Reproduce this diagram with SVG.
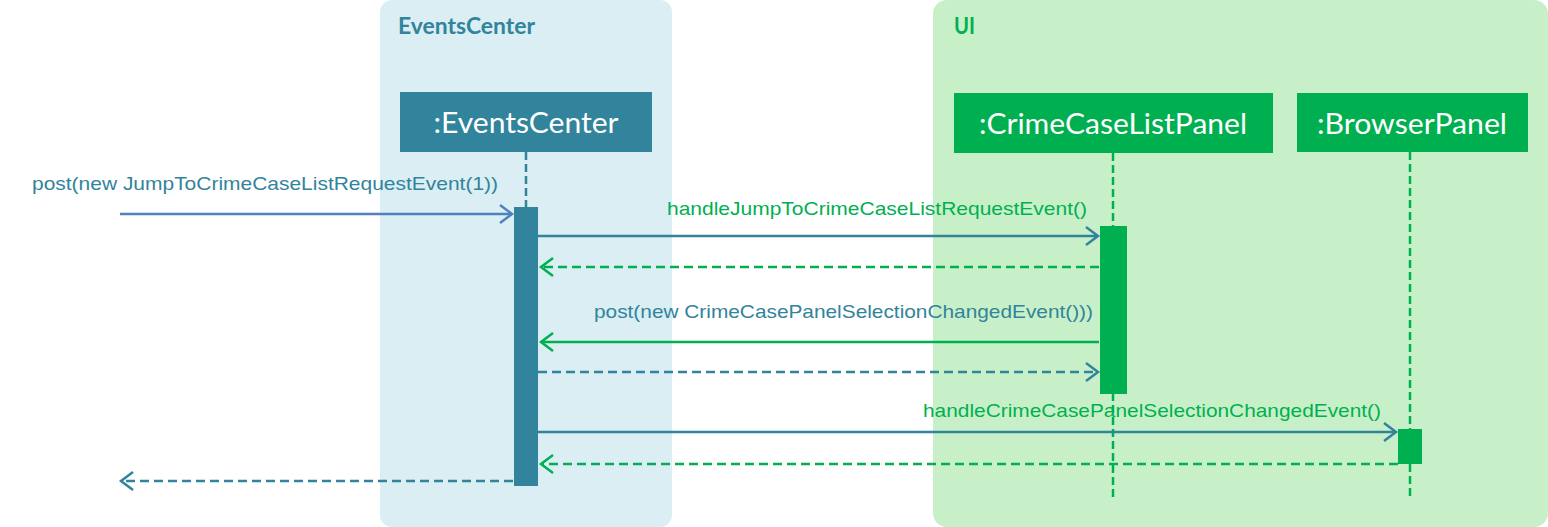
<svg xmlns="http://www.w3.org/2000/svg" width="1548" height="527" viewBox="0 0 1548 527">
<style>
.frame-title{font-family:"Lato","Liberation Sans",sans-serif;font-weight:bold;font-size:22px}
.obj{font-family:"Lato","Open Sans","Liberation Sans",sans-serif;font-size:28px;fill:#fff;text-anchor:middle}
.msg{font-family:"Liberation Sans",Arial,sans-serif;font-size:19px}
.teal{fill:#31849B}
.green{fill:#00B050}
.life-t{stroke:#31849B;stroke-width:2.5;stroke-dasharray:8 4;fill:none}
.life-g{stroke:#00B050;stroke-width:2.5;stroke-dasharray:8 4;fill:none}
.m{stroke-width:2.5;fill:none}
.dash{stroke-dasharray:9 5}
</style>
<defs>
<marker id="aT" markerUnits="userSpaceOnUse" markerWidth="18" markerHeight="22" refX="14" refY="11" orient="auto"><path d="M2,2 L14,11 L2,20" fill="none" stroke="#31849B" stroke-width="2.5"/></marker>
<marker id="aG" markerUnits="userSpaceOnUse" markerWidth="18" markerHeight="22" refX="14" refY="11" orient="auto"><path d="M2,2 L14,11 L2,20" fill="none" stroke="#00B050" stroke-width="2.5"/></marker>
<marker id="aB" markerUnits="userSpaceOnUse" markerWidth="18" markerHeight="22" refX="14" refY="11" orient="auto"><path d="M2,2 L14,11 L2,20" fill="none" stroke="#4F81BD" stroke-width="2.5"/></marker>
</defs>

<g id="frame-eventscenter">
<rect x="380" y="0" width="292" height="527" rx="12" fill="#DAEEF3"/>
<text class="frame-title teal" x="398" y="34" textLength="137" lengthAdjust="spacingAndGlyphs">EventsCenter</text>
</g>
<g id="frame-ui">
<rect x="933" y="0" width="615" height="527" rx="14" fill="#C8F0C8"/>
<text class="frame-title green" x="954" y="34" textLength="21" lengthAdjust="spacingAndGlyphs">UI</text>
</g>

<g id="node-eventscenter">
<rect x="400" y="92" width="252" height="60" fill="#31849B"/>
<text class="obj" x="526" y="133" textLength="185" lengthAdjust="spacingAndGlyphs">:EventsCenter</text>
<line class="life-t" x1="526" y1="152" x2="526" y2="207"/>
<rect x="514" y="207" width="24" height="279" fill="#31849B"/>
</g>

<g id="node-crimecaselistpanel">
<rect x="954" y="93" width="319" height="60" fill="#00B050"/>
<text class="obj" x="1113" y="134" textLength="268" lengthAdjust="spacingAndGlyphs">:CrimeCaseListPanel</text>
<line class="life-g" x1="1113" y1="153" x2="1113" y2="498"/>
<rect x="1100" y="226" width="27" height="168" fill="#00B050"/>
</g>

<g id="node-browserpanel">
<rect x="1297" y="93" width="231" height="59" fill="#00B050"/>
<text class="obj" x="1412" y="134" textLength="190" lengthAdjust="spacingAndGlyphs">:BrowserPanel</text>
<line class="life-g" x1="1410" y1="152" x2="1410" y2="498"/>
<rect x="1398" y="429" width="24" height="35" fill="#00B050"/>
</g>

<g id="connectors">
<line class="m" stroke="#4F81BD" x1="120" y1="214" x2="512" y2="214" marker-end="url(#aB)"/>
<text class="msg teal" x="32" y="190" textLength="466" lengthAdjust="spacingAndGlyphs">post(new JumpToCrimeCaseListRequestEvent(1))</text>

<line class="m" stroke="#31849B" x1="538" y1="236" x2="1098" y2="236" marker-end="url(#aT)"/>
<text class="msg green" x="667" y="215" textLength="420" lengthAdjust="spacingAndGlyphs">handleJumpToCrimeCaseListRequestEvent()</text>

<line class="m dash" stroke="#00B050" x1="1099" y1="267" x2="541" y2="267" marker-end="url(#aG)"/>

<line class="m" stroke="#00B050" x1="1099" y1="342" x2="541" y2="342" marker-end="url(#aG)"/>
<text class="msg teal" x="594" y="318" textLength="499" lengthAdjust="spacingAndGlyphs">post(new CrimeCasePanelSelectionChangedEvent()))</text>

<line class="m dash" stroke="#31849B" x1="538" y1="372" x2="1098" y2="372" marker-end="url(#aT)"/>

<line class="m" stroke="#31849B" x1="538" y1="432" x2="1396" y2="432" marker-end="url(#aT)"/>
<text class="msg green" x="923" y="417" textLength="458" lengthAdjust="spacingAndGlyphs">handleCrimeCasePanelSelectionChangedEvent()</text>

<line class="m dash" stroke="#00B050" x1="1398" y1="464" x2="541" y2="464" marker-end="url(#aG)"/>

<line class="m dash" stroke="#31849B" x1="513" y1="481" x2="121" y2="481" marker-end="url(#aT)"/>
</g>
</svg>
